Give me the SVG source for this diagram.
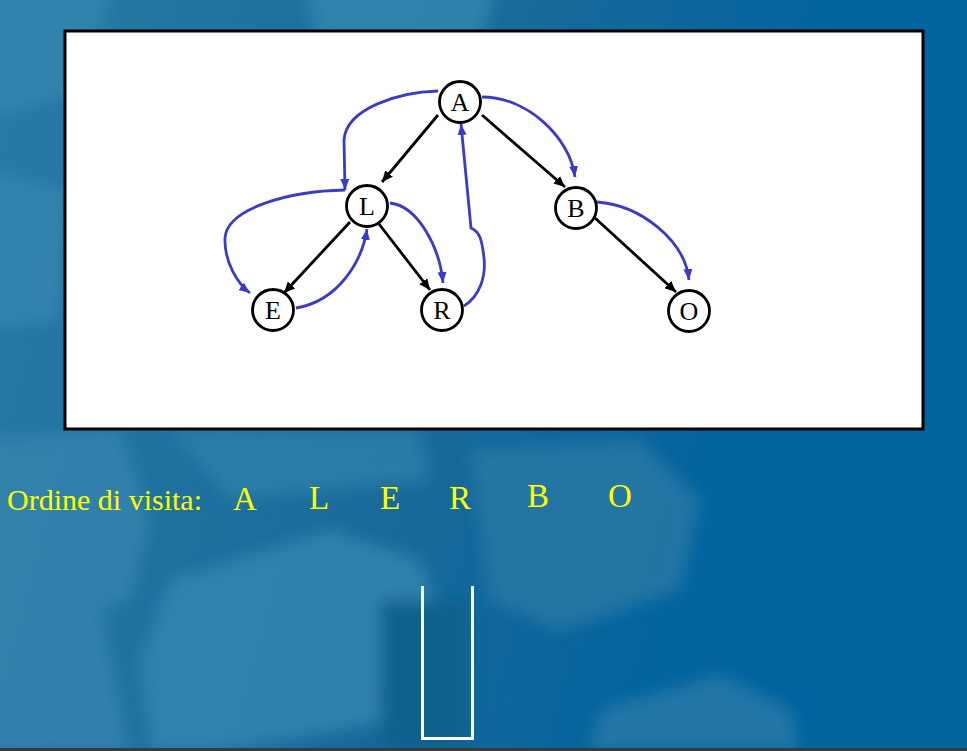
<svg xmlns="http://www.w3.org/2000/svg" width="967" height="751" viewBox="0 0 967 751">
  <defs>
    <linearGradient id="bgGrad" x1="0" y1="0" x2="1" y2="0.2">
      <stop offset="0" stop-color="#2a7aa6"/>
      <stop offset="0.55" stop-color="#17699a"/>
      <stop offset="0.82" stop-color="#04649f"/>
      <stop offset="1" stop-color="#02639f"/>
    </linearGradient>
    <filter id="soft" x="-20%" y="-20%" width="140%" height="140%">
      <feGaussianBlur stdDeviation="8"/>
    </filter>
    <marker id="blk" markerUnits="userSpaceOnUse" markerWidth="12" markerHeight="10" refX="11" refY="5" orient="auto">
      <path d="M0,0 L11,5 L0,10 z" fill="#000"/>
    </marker>
    <marker id="blu" markerUnits="userSpaceOnUse" markerWidth="11" markerHeight="10" refX="11" refY="4.5" orient="auto">
      <path d="M0,0 L11,4.5 L0,9 z" fill="#3b3bc8"/>
    </marker>
    <style>
      .node circle { fill: #fff; stroke: #000; stroke-width: 2.8; }
      .node text { font-family: "Liberation Serif", "DejaVu Serif", "Times New Roman", serif; font-size: 26px; fill: #000; text-anchor: middle; }
      .tree { stroke: #000; stroke-width: 2.8; fill: none; marker-end: url(#blk); }
      .visit { stroke: #3b3bc8; stroke-width: 2.8; fill: none; marker-end: url(#blu); }
      .yel { font-family: "Liberation Serif", "DejaVu Serif", "Times New Roman", serif; fill: #ffff00; }
    </style>
  </defs>

  <!-- background (keyboard photo approximation) -->
  <g id="background">
    <rect x="0" y="0" width="967" height="751" fill="url(#bgGrad)"/>
    <g filter="url(#soft)" opacity="0.8">
      <path d="M-20,-20 L110,-20 L90,90 L-20,120 z" fill="#3586b0"/>
      <path d="M300,-20 L500,-20 L480,45 L320,45 z" fill="#3586b0"/>
      <path d="M-20,170 L70,190 L60,320 L-20,330 z" fill="#3586b0"/>
      <path d="M-20,440 L120,430 L150,520 L130,600 L-20,640 z" fill="#3484ae"/>
      <path d="M-20,610 L100,600 L130,751 L-20,751 z" fill="#3484ae"/>
      <path d="M170,580 L330,530 L420,560 L450,640 L400,720 L220,751 L150,751 L140,660 z" fill="#3687b1"/>
      <path d="M470,450 L640,440 L700,500 L680,590 L560,630 L490,600 z" fill="#2a79a5"/>
      <path d="M600,710 L720,675 L790,710 L800,751 L590,751 z" fill="#2b7ba8"/>
      <path d="M170,430 L420,430 L430,480 L230,500 z" fill="#2f80ab"/>
      <path d="M380,600 L470,600 L470,751 L380,751 z" fill="#11608b"/>
    </g>
    <rect x="0" y="748" width="967" height="3" fill="#3a3a3a"/>
  </g>

  <!-- white panel -->
  <rect id="panel" x="65" y="31" width="858" height="398" fill="#ffffff" stroke="#000" stroke-width="3"/>

  <!-- connectors -->
  <g id="connectors">
    <path class="tree" d="M438,115 L382,182"/>
    <path class="tree" d="M482,115 L565,187"/>
    <path class="tree" d="M350,222 L284,293"/>
    <path class="tree" d="M379,224 L430,290"/>
    <path class="tree" d="M595,218 L676,292"/>

    <path class="visit" d="M438,91 C400,92 346,108 344,140 L345,190"/>
    <path class="visit" d="M345,190 C290,191 227,208 225,238 C224,262 238,284 250,293"/>
    <path class="visit" d="M296,308 C338,301 362,262 367,229"/>
    <path class="visit" d="M390,203 C418,206 440,248 443,283"/>
    <path class="visit" d="M464,306 C480,296 486,276 484,258 C482,240 480,232 471,228 L461,124"/>
    <path class="visit" d="M482,97 C528,97 570,138 575,177"/>
    <path class="visit" d="M597,202 C640,205 685,240 689,280"/>
  </g>

  <!-- nodes -->
  <g id="node-A" class="node"><circle cx="460" cy="102" r="20.5"/><text x="460" y="111">A</text></g>
  <g id="node-L" class="node"><circle cx="367" cy="206" r="20.5"/><text x="367" y="215">L</text></g>
  <g id="node-B" class="node"><circle cx="576" cy="208" r="20.5"/><text x="576" y="217">B</text></g>
  <g id="node-E" class="node"><circle cx="273" cy="310" r="20.5"/><text x="273" y="319">E</text></g>
  <g id="node-R" class="node"><circle cx="442" cy="310" r="20.5"/><text x="442" y="319">R</text></g>
  <g id="node-O" class="node"><circle cx="689" cy="311" r="20.5"/><text x="689" y="320">O</text></g>

  <!-- visit order -->
  <g id="visit-order">
    <text class="yel" x="7" y="510" font-size="30">Ordine di visita:</text>
    <text class="yel" x="233" y="510" font-size="33">A</text>
    <text class="yel" x="309" y="509" font-size="33">L</text>
    <text class="yel" x="380" y="509" font-size="33">E</text>
    <text class="yel" x="449" y="509" font-size="33">R</text>
    <text class="yel" x="527" y="507" font-size="33">B</text>
    <text class="yel" x="608" y="507" font-size="33">O</text>
  </g>

  <!-- stack -->
  <g id="stack">
    <path d="M422.5,586 V738.5 H472.5 V586" fill="none" stroke="#ffffff" stroke-width="3"/>
  </g>
</svg>
